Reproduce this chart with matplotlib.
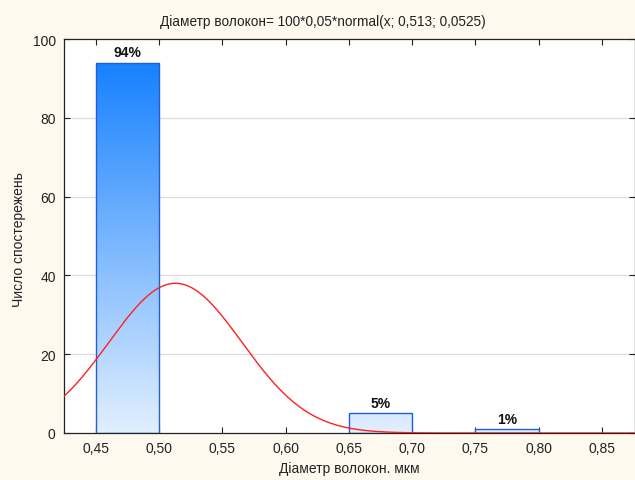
import numpy as np
import matplotlib
matplotlib.use("Agg")
import matplotlib.pyplot as plt
from matplotlib.patches import Rectangle
from matplotlib.colors import LinearSegmentedColormap
from matplotlib.ticker import FuncFormatter

plt.rcParams["font.family"] = ["Liberation Sans", "DejaVu Sans"]

# histogram bins (left edges) and counts
bin_left = [0.45, 0.65, 0.75]
bin_width = 0.05
counts = [94, 5, 1]
pct_labels = ["94%", "5%", "1%"]

# fitted normal: n * width * normal(x; mean, sd)
n_obs = 100
fit_mean = 0.513
fit_sd = 0.0525

x_ticks = [0.45, 0.50, 0.55, 0.60, 0.65, 0.70, 0.75, 0.80, 0.85]
y_ticks = [0, 20, 40, 60, 80, 100]

bg = "#fdf9ef"
W, H = 635, 481
fig = plt.figure(figsize=(W / 100, H / 100), dpi=100, facecolor=bg)
ax = fig.add_axes([64 / W, 47 / H, 571 / W, 394 / H])
ax.set_facecolor("white")

xmin, xmax = 0.425, 0.876
ax.set_xlim(xmin, xmax)
ax.set_ylim(0, 100)

for y in y_ticks[1:-1]:
    ax.axhline(y, color="#dddddd", lw=0.9, zorder=0)

# vertical gradient: pale at zero, saturated blue at the top
cmap = LinearSegmentedColormap.from_list("bars", ["#e2efff", "#0a7afe"])
grad = np.linspace(0, 1, 256).reshape(-1, 1)
for left, h, lab in zip(bin_left, counts, pct_labels):
    rect = Rectangle((left, 0), bin_width, h, facecolor="none",
                     edgecolor="#2060d0", lw=1.0, zorder=3)
    ax.add_patch(rect)
    im = ax.imshow(grad, cmap=cmap, aspect="auto", origin="lower",
                   extent=(xmin, xmax, 0, 100), zorder=2, vmin=0, vmax=1)
    im.set_clip_path(rect)
    ax.text(left + bin_width / 2, h + 0.8, lab, ha="center", va="bottom",
            fontsize=10, fontweight="bold", color="#111111", zorder=4)

xs = np.linspace(xmin, xmax, 400)
pdf = np.exp(-0.5 * ((xs - fit_mean) / fit_sd) ** 2) / (fit_sd * np.sqrt(2 * np.pi))
ax.plot(xs, n_obs * bin_width * pdf, color="#ff2020", lw=1.0, zorder=5)

ax.set_xticks(x_ticks)
ax.set_yticks(y_ticks)
ax.xaxis.set_major_formatter(FuncFormatter(lambda v, p: f"{v:.2f}".replace(".", ",")))
ax.tick_params(direction="in", top=True, right=True, length=4, width=0.8,
               labelsize=10, colors="#222222", pad=6)
for s in ax.spines.values():
    s.set_color("#222222")
    s.set_linewidth(0.9)

# axis titles at fixed pixel positions
fig.text(349 / W, 1 - 469 / H, "Діаметр волокон. мкм", ha="center", va="center",
         fontsize=10, color="#222222")
fig.text(19 / W, 1 - 240 / H, "Число спостережень", ha="center", va="center",
         rotation=90, fontsize=10, color="#222222")
fig.text(0.508, 0.955, "Діаметр волокон= 100*0,05*normal(x; 0,513; 0,0525)",
         ha="center", va="center", fontsize=9.8, color="#222222")

fig.savefig("out.png", dpi=100, facecolor=bg)
